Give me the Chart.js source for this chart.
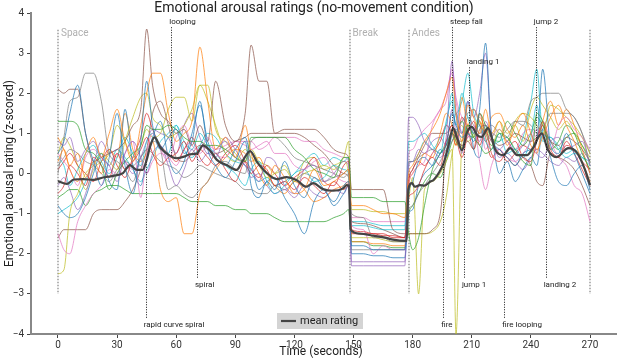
<!DOCTYPE html>
<html>
<head>
<meta charset="utf-8">
<script src="https://cdn.jsdelivr.net/npm/chart.js@4.4.0/dist/chart.umd.min.js"></script>
<style>
  html, body { margin: 0; padding: 0; background: #fff; }
</style>
</head>
<body>
<canvas id="myChart" width="617" height="359"></canvas>
<script>

// sample times (seconds) for the three parts of the ride
var spaceT = [0,3,6,10,14,18,22,26,30,34,38,42,45,48,52,56,60,64,68,72,76,80,85,90,95,98,102,106,110,115,120,125,130,135,140,145,147.5];
var breakT = [149,155,160,165,170,176];
var andesT = [178,180,183,186,190,194,197,200,202,205,208,211,214,217,220,224,228,232,236,240,243,246,250,254,258,262,266,270];

// single raters: [space, break, andes]
var rater01 = [[0.5,0.8,1.5,2.2,1.0,0.3,-0.3,0.4,1.5,0.2,-0.5,0.8,2.3,1.2,0.6,0.9,1.1,0.5,0.8,1.8,0.6,0.2,-0.1,0.3,0.8,-0.3,-0.6,-0.2,-0.4,0.3,-0.3,-0.6,-0.1,-0.4,-0.7,-0.3,-0.2],
  [-1.8,-1.8,-1.9,-1.9,-1.9,-1.9],
  [-0.5,-0.2,0.3,0.4,0.2,0.5,0.7,1.5,1.2,0.9,1.0,0.8,1.6,3.25,1.0,0.6,0.4,0.2,0.5,0.6,0.8,2.6,0.7,0.5,1.0,0.5,0.0,-0.5]];
var rater02 = [[0.3,0.6,0.1,-0.2,0.5,0.9,0.4,1.0,1.6,0.8,0.3,1.2,2.0,2.5,2.5,1.5,0.8,1.0,1.3,3.15,1.8,0.6,0.9,0.4,1.2,0.5,0.0,-0.3,0.2,-0.1,-0.5,-0.4,0.1,-0.3,-0.2,0.0,0.1],
  [-0.8,-0.8,-0.9,-1.0,-1.0,-1.1],
  [0.0,0.2,0.5,0.8,1.1,1.5,2.0,2.4,1.5,0.8,1.7,1.4,1.0,1.6,1.0,1.3,0.7,1.2,1.5,1.0,0.6,0.9,1.4,1.7,1.2,0.8,0.3,-0.2]];
var rater03 = [[1.3,1.3,1.3,1.2,0.6,0.5,0.2,-0.4,0.0,0.3,0.5,0.7,1.2,1.1,1.1,1.2,1.1,0.9,0.8,0.8,0.7,0.7,0.6,0.4,0.3,0.9,0.9,0.9,0.9,0.9,0.6,0.4,0.1,0.0,-0.1,0.4,0.4],
  [-0.6,-0.6,-0.6,-0.7,-0.7,-0.7],
  [-1.5,-1.9,-1.6,-0.8,0.1,0.5,0.7,1.0,0.8,0.6,1.2,0.9,0.7,0.5,0.6,1.0,0.9,0.6,0.3,0.2,1.5,1.3,0.6,0.8,1.2,1.0,0.5,0.1]];
var rater04 = [[-0.5,-0.3,0.2,0.0,-0.3,0.4,0.2,-0.1,0.5,0.1,0.3,0.6,0.9,0.5,0.2,0.4,0.5,0.8,0.3,0.6,0.4,0.2,0.5,0.7,0.3,0.0,0.2,0.1,-0.3,-0.2,-0.4,-0.1,-0.3,-0.5,-0.2,-0.4,-0.3],
  [-1.4,-1.45,-1.5,-1.5,-1.6,-1.6],
  [-0.6,-0.5,-0.3,0.1,0.4,0.2,0.8,1.2,0.9,0.4,1.0,1.3,0.7,1.1,0.5,0.3,0.6,0.8,0.4,0.3,0.8,1.2,0.5,0.4,0.7,0.6,0.3,0.1]];
var rater05 = [[0.8,0.7,0.9,0.3,0.6,0.8,0.4,0.2,-0.2,0.5,0.8,0.4,0.0,0.5,0.7,0.2,-0.3,0.1,0.6,0.3,0.5,0.4,0.9,0.6,0.2,0.1,-0.2,0.4,0.3,-0.3,-0.5,0.1,0.2,-0.2,0.0,0.3,0.2],
  [-2.2,-2.2,-2.2,-2.2,-2.2,-2.2],
  [1.4,1.4,1.2,0.8,0.6,0.4,0.9,2.8,1.5,0.5,1.8,1.4,2.0,3.0,1.0,0.6,0.8,0.5,0.7,1.0,0.5,0.4,0.8,0.9,0.6,0.7,0.8,0.2]];
var rater06 = [[2.1,2.0,2.1,2.1,1.0,0.3,0.4,0.5,0.6,0.8,1.2,1.6,3.6,2.2,1.5,1.3,1.0,1.1,0.7,1.2,0.8,2.3,1.2,0.8,1.5,3.2,2.3,2.3,1.0,1.1,1.1,1.1,1.1,0.9,0.6,0.5,0.4],
  [-0.4,-0.4,-0.4,-0.4,-1.4,-1.5],
  [-1.5,-1.5,-1.5,-1.5,-1.4,-1.0,0.5,1.0,0.9,0.7,0.8,0.6,1.1,1.2,0.9,0.7,0.8,1.0,0.9,0.8,0.9,1.0,0.8,0.7,0.9,0.8,0.6,0.3]];
var rater07 = [[-1.5,-1.9,-2.0,-1.2,-0.8,-0.5,-0.3,0.1,0.0,0.5,0.8,-0.6,0.5,1.0,0.6,0.3,0.9,1.2,0.7,0.6,0.9,0.5,0.4,0.8,0.7,0.6,0.7,0.8,0.5,0.5,0.2,0.1,0.3,0.4,0.0,-0.2,-0.3],
  [-1.3,-1.4,-2.0,-1.8,-1.9,-1.9],
  [-0.3,0.0,0.2,0.3,1.2,1.6,2.0,2.5,1.8,1.0,0.9,1.2,0.3,-0.4,0.2,0.6,0.4,0.3,0.5,0.8,1.1,0.9,0.6,1.2,1.4,1.1,0.9,0.6]];
var rater08 = [[0.0,0.9,1.8,1.9,2.5,2.5,1.8,0.5,0.3,0.1,-0.2,0.4,0.6,0.8,0.6,-0.4,-0.3,-0.5,-0.6,-0.4,-0.2,0.2,0.3,0.1,0.0,0.8,0.9,0.9,0.9,0.7,0.4,0.3,0.2,0.1,0.0,-0.1,0.0],
  [-1.0,-1.1,-1.6,-1.6,-1.7,-1.7],
  [-0.9,-0.8,-0.5,-0.3,0.0,0.3,0.6,0.8,1.0,1.3,1.5,1.6,1.2,0.8,1.0,0.9,1.1,1.3,1.2,1.8,1.9,2.0,2.0,2.0,1.6,1.4,1.0,0.2]];
var rater09 = [[-2.5,-2.4,-1.0,-0.5,0.0,0.2,0.5,0.3,0.1,0.8,1.4,1.9,2.0,1.4,1.2,0.9,1.0,1.2,1.6,2.2,1.8,1.2,0.5,0.3,0.6,0.4,0.2,-0.1,0.0,0.2,-0.2,0.0,0.1,0.2,0.1,0.3,0.0],
  [-0.9,-0.9,-0.95,-0.95,-1.0,-1.0],
  [-0.6,-0.1,-3.0,-0.4,-0.2,0.0,0.3,0.6,-4.0,0.8,1.2,0.9,1.3,1.0,0.7,1.1,0.8,1.3,1.5,1.4,1.2,1.0,1.7,1.6,1.4,1.2,0.9,0.5]];
var rater10 = [[0.4,0.2,-0.3,0.1,0.5,0.7,0.3,0.0,0.4,0.9,0.5,0.2,0.8,1.0,0.7,0.5,1.2,0.8,0.6,1.0,0.7,0.5,0.2,0.0,-0.3,0.1,0.3,-0.2,-0.5,-0.3,0.0,0.1,-0.2,-0.1,0.2,0.1,0.0],
  [-1.3,-1.3,-1.35,-1.4,-1.4,-1.4],
  [0.8,0.8,0.9,1.0,0.7,0.5,1.3,1.8,1.2,2.0,1.4,1.0,1.2,0.8,0.6,1.0,0.5,0.6,0.4,0.9,1.7,0.8,0.9,0.6,0.4,0.5,0.4,0.3]];
var rater11 = [[-0.8,-1.0,-1.1,-1.0,-0.6,0.0,0.5,-0.2,-0.4,1.6,0.2,-0.3,0.4,0.9,1.3,0.4,0.0,0.3,1.0,1.7,0.8,0.4,0.2,0.6,0.9,0.3,-0.4,-0.2,-0.1,-0.6,-1.0,-1.5,-0.7,-0.4,-0.8,-0.5,-0.3],
  [-2.0,-2.0,-2.05,-2.05,-2.1,-2.1],
  [-1.0,-0.9,-0.3,0.0,0.2,0.6,0.4,1.0,1.5,1.0,1.8,0.6,0.4,1.2,0.9,0.0,0.3,-0.2,0.1,0.4,0.2,1.1,0.4,-0.2,-0.3,0.0,0.2,-0.4]];
var rater12 = [[0.9,0.6,0.2,0.5,-0.1,0.3,0.0,0.6,0.4,1.5,0.6,0.3,0.5,0.8,-0.4,-0.7,-0.6,-1.5,-1.5,-0.5,-0.2,0.1,0.4,0.6,0.5,0.3,0.4,0.0,-0.3,-0.5,-0.2,-0.4,-0.7,-0.6,-0.4,-0.3,-0.2],
  [-1.7,-1.7,-1.75,-1.75,-1.8,-1.8],
  [-0.3,0.0,0.2,0.5,0.4,1.0,1.5,1.2,0.7,1.9,1.2,1.6,1.3,1.0,1.4,1.5,1.1,0.9,1.2,0.7,0.5,1.3,1.8,1.2,1.6,1.2,0.6,0.0]];
var rater13 = [[-0.6,-0.5,-0.4,-0.4,-0.8,-0.5,-0.4,-0.3,-0.3,-0.4,-0.5,-0.5,-0.5,-0.5,-0.5,-0.5,-0.5,-0.6,-0.7,-0.7,-0.7,-0.8,-0.8,-0.9,-0.9,-1.0,-1.0,-1.0,-1.1,-1.2,-1.2,-1.2,-1.2,-1.2,-1.1,-1.0,-0.9],
  [-1.7,-1.7,-1.8,-1.8,-1.85,-1.85],
  [-1.0,-0.8,-0.5,-0.2,0.0,-0.1,0.3,0.8,1.0,1.3,1.0,0.9,1.5,1.2,0.9,0.8,1.3,1.0,0.7,1.0,1.4,1.2,0.8,0.6,0.9,1.0,0.7,0.3]];
var rater14 = [[0.1,0.3,0.5,0.2,0.0,-0.2,0.3,0.6,0.2,-0.1,0.4,0.9,1.5,1.1,0.7,0.5,0.3,0.6,0.9,0.4,0.2,0.5,0.1,-0.2,0.3,0.1,-0.1,0.2,0.0,-0.3,-0.1,0.1,0.4,-0.2,-0.3,0.2,0.3],
  [-1.5,-1.5,-1.5,-1.55,-1.55,-1.6],
  [-0.2,0.1,0.3,0.2,0.5,0.8,1.2,1.0,0.7,1.4,1.1,0.6,1.5,0.9,0.4,0.6,0.3,0.5,0.7,0.6,0.9,1.3,0.6,0.4,0.8,0.5,0.1,-0.3]];
var rater15 = [[-0.3,-0.1,-0.4,-0.9,-0.5,0.2,0.8,0.5,0.6,0.3,0.0,0.4,0.8,1.1,1.0,0.9,0.5,1.2,1.5,0.9,0.5,0.6,0.8,0.4,0.2,-0.1,0.0,-0.3,-0.5,-0.4,-0.6,-0.3,-0.5,-0.6,-0.4,-0.5,-0.3],
  [-2.3,-2.3,-2.3,-2.3,-2.3,-2.3],
  [0.2,0.3,0.6,0.5,0.8,0.9,0.7,1.6,1.0,0.7,0.9,1.1,0.8,1.3,0.9,0.4,0.5,0.3,0.1,0.4,0.6,0.5,0.3,0.2,0.4,0.3,0.5,0.0]];
var rater16 = [[-1.6,-1.4,-1.4,-1.4,-1.4,-1.0,-0.9,-0.9,-0.9,-0.7,-0.4,0.1,0.6,1.5,1.8,1.2,0.4,0.3,0.5,0.7,0.6,0.5,0.6,0.8,0.9,1.0,1.0,1.0,1.0,1.0,1.0,0.9,0.7,0.5,0.2,0.0,-0.1],
  [-1.2,-1.25,-1.3,-1.4,-1.5,-1.6],
  [-0.2,0.1,0.4,0.7,1.0,1.0,1.0,1.2,0.9,0.8,1.2,1.0,0.9,1.0,0.8,0.5,0.4,0.2,0.4,0.2,-0.2,-0.3,0.5,0.4,0.3,0.1,-0.3,-0.8]];
var rater17 = [[0.5,0.3,0.1,-0.3,0.4,0.6,0.4,0.2,0.5,0.3,0.1,0.2,0.0,0.3,0.5,0.4,0.2,0.6,0.8,0.5,0.7,0.6,0.7,0.8,0.8,0.8,0.6,0.7,0.9,0.9,0.9,0.8,0.8,0.6,0.5,0.4,0.3],
  [-1.1,-1.1,-1.2,-1.2,-1.2,-1.2],
  [0.5,0.6,0.9,1.1,1.3,1.6,1.8,2.6,1.9,1.4,1.2,1.0,1.3,0.6,0.9,1.1,0.8,0.6,1.0,1.1,0.9,1.3,0.8,0.4,0.2,-0.3,-0.5,-1.2]];
var rater18 = [[0.2,0.4,0.6,0.5,0.3,0.2,0.0,-0.2,0.1,0.3,0.2,0.4,0.6,0.5,0.3,0.2,0.1,-0.1,0.0,0.2,0.1,0.0,-0.1,-0.2,-0.4,-0.4,-0.5,-0.5,-0.3,-0.4,-0.2,0.0,-0.1,-0.2,-0.1,0.0,0.1],
  [-1.9,-1.9,-1.9,-1.9,-1.9,-1.9],
  [0.3,0.3,0.4,0.5,0.6,0.5,0.8,1.0,1.1,1.0,1.4,1.2,1.0,1.1,1.2,1.0,0.9,1.3,1.3,1.2,1.0,1.1,1.5,1.5,1.5,1.4,1.0,0.5]];
var rater19 = [[0.5,0.9,0.7,0.2,-0.4,0.1,0.3,0.5,1.2,0.8,0.4,0.7,1.1,0.9,1.0,1.6,1.9,1.9,1.3,2.2,2.2,1.1,0.8,0.5,0.3,0.6,0.3,0.2,0.0,0.1,-0.2,0.3,0.4,0.1,0.2,0.4,0.8],
  [-1.6,-1.6,-1.6,-1.65,-1.7,-1.7],
  [-1.5,-1.5,-1.5,-1.5,-1.45,-1.2,-0.6,0.5,0.9,1.2,0.8,1.0,1.4,1.1,0.9,1.3,1.0,1.2,0.8,1.6,1.9,1.7,1.4,1.1,1.3,1.0,0.7,0.4]];
var rater20 = [[-1.0,-0.9,-0.8,-0.6,-0.2,0.3,0.5,0.2,0.6,0.4,0.1,-0.2,0.1,0.4,0.8,1.0,1.2,0.6,0.4,0.7,1.0,0.9,0.5,0.3,0.2,0.0,-0.2,-0.1,-0.3,-0.2,0.0,0.3,0.5,0.2,0.4,0.3,0.4],
  [-1.2,-1.2,-1.25,-1.3,-1.3,-1.3],
  [0.3,0.3,0.5,0.8,0.6,0.9,1.2,2.0,1.5,1.8,2.5,1.5,1.2,1.0,0.7,0.8,0.9,0.6,0.9,1.8,2.6,1.0,0.9,0.7,0.5,0.6,0.4,0.2]];

var raters = [rater01,rater02,rater03,rater04,rater05,rater06,rater07,rater08,rater09,rater10,
              rater11,rater12,rater13,rater14,rater15,rater16,rater17,rater18,rater19,rater20];

// mean rating over all raters
var meanT = [0,4.5,8,12.8,17.8,22.8,28,33,36.5,40,43,45,46.7,49,51.8,55,60,64,67,70.5,73.6,77,80.6,85.6,90.6,94,97.5,101,106,111,116,121,126,129.5,134.5,139.6,144.7,146.5,147.7,148.5,153,160,167,170,177,177.8,179.7,181,183.7,186,189,190.6,195.7,198,200.5,202.5,205,207.6,210,212.7,215,218.3,222,226,229.5,233,238,241,245.5,248.7,253,259,263.5,267.5,270];
var meanV = [-0.19,-0.26,-0.15,-0.14,-0.16,-0.1,-0.06,0.01,0.21,0.09,0.09,0.34,0.66,0.9,0.66,0.5,0.38,0.42,0.48,0.5,0.7,0.58,0.34,0.21,0.09,0.34,0.56,0.29,0.01,-0.14,-0.09,-0.16,-0.33,-0.24,-0.39,-0.43,-0.37,-0.29,-0.3,-1.4,-1.5,-1.55,-1.61,-1.65,-1.68,-0.4,-0.24,-0.33,-0.29,-0.3,-0.2,-0.16,0.26,0.66,1.13,0.9,0.58,1.03,1.16,0.96,0.91,1.13,0.58,0.46,0.63,0.46,0.46,0.63,1.0,0.58,0.41,0.63,0.51,0.09,-0.29];

// sections and events
var sectionNames = ['Space','Break','Andes',''];
var sectionTimes = [0,148,178,270];
var eventNames = ['looping','rapid curve spiral','spiral','steep fall','landing 1','jump 2','fire','jump 1','fire looping','landing 2'];
var eventTimes = [57.5,44.5,70.5,200,208.5,242.5,195.5,206,226.5,247.5];
var eventLabelY = [3.77,-3.77,-2.77,3.77,2.77,3.77,-3.77,-2.77,-3.77,-2.77];

var xTicks = [0,30,60,90,120,150,180,210,240,270];

var palette = ['31,119,180','255,127,14','44,160,44','214,39,40','148,103,189',
               '140,86,75','227,119,194','127,127,127','188,189,34','23,190,207'];

function meanAt(t) {
  for (var i = 1; i < meanT.length; i++) {
    if (meanT[i] >= t) {
      var f = (t - meanT[i-1]) / (meanT[i] - meanT[i-1]);
      return meanV[i-1] + f * (meanV[i] - meanV[i-1]);
    }
  }
  return meanV[meanV.length - 1];
}

function raterPoints(r) {
  var pts = [];
  [spaceT, breakT, andesT].forEach(function(times, s) {
    var n = Math.min(times.length, r[s].length);
    for (var i = 0; i < n; i++) pts.push({x: times[i], y: r[s][i]});
  });
  return pts;
}

var datasets = [{
  label: 'mean rating',
  data: meanT.map(function(t, i) { return {x: t, y: meanV[i]}; }),
  borderColor: '#444444',
  borderWidth: 2.2,
  pointRadius: 0,
  cubicInterpolationMode: 'monotone',
  order: 0
}];
raters.forEach(function(r, k) {
  datasets.push({
    label: 'rater ' + (k + 1),
    data: raterPoints(r),
    borderColor: 'rgba(' + palette[k % 10] + ',0.72)',
    borderWidth: 1,
    pointRadius: 0,
    cubicInterpolationMode: 'monotone',
    order: 1
  });
});

var FONT = 'Roboto, "DejaVu Sans", sans-serif';

function minus(v) { return v < 0 ? '\u2212' + Math.abs(v) : '' + v; }

var overlay = {
  id: 'overlay',
  beforeDatasetsDraw: function(chart) {
    var ctx = chart.ctx, xs = chart.scales.x, ys = chart.scales.y;
    ctx.save();
    ctx.strokeStyle = '#b4b4b4';
    ctx.lineWidth = 2;
    ctx.setLineDash([1.5, 1.5]);
    sectionTimes.forEach(function(t) {
      var px = Math.round(xs.getPixelForValue(t));
      ctx.beginPath();
      ctx.moveTo(px, ys.getPixelForValue(3.58));
      ctx.lineTo(px, ys.getPixelForValue(-3));
      ctx.stroke();
    });
    ctx.restore();
  },
  afterDatasetsDraw: function(chart) {
    var ctx = chart.ctx, xs = chart.scales.x, ys = chart.scales.y;
    ctx.save();
    // event lines from label to the mean curve
    ctx.strokeStyle = '#111';
    ctx.lineWidth = 1;
    ctx.setLineDash([1, 1.5]);
    eventTimes.forEach(function(t, i) {
      var px = Math.round(xs.getPixelForValue(t)) + 0.5;
      var top = eventLabelY[i] > 0;
      var start = ys.getPixelForValue(eventLabelY[i]) + (top ? 5 : -7);
      ctx.beginPath();
      ctx.moveTo(px, start);
      ctx.lineTo(px, ys.getPixelForValue(meanAt(t)));
      ctx.stroke();
    });
    ctx.setLineDash([]);
    ctx.fillStyle = '#222';
    ctx.font = '8px ' + FONT;
    ctx.textBaseline = 'middle';
    ctx.textAlign = 'left';
    eventTimes.forEach(function(t, i) {
      ctx.fillText(eventNames[i], xs.getPixelForValue(t) - 2, ys.getPixelForValue(eventLabelY[i]));
    });
    // section names
    ctx.fillStyle = '#b0b0b0';
    ctx.font = '10px ' + FONT;
    sectionTimes.forEach(function(t, i) {
      if (sectionNames[i]) ctx.fillText(sectionNames[i], xs.getPixelForValue(t) + 3, ys.getPixelForValue(3.5));
    });
    ctx.restore();
  },
  afterDraw: function(chart) {
    var ctx = chart.ctx, area = chart.chartArea;
    ctx.save();
    ctx.fillStyle = '#222';
    ctx.textAlign = 'center';
    ctx.textBaseline = 'middle';
    ctx.font = '14px ' + FONT;
    ctx.fillText('Emotional arousal ratings (no-movement condition)', 314, 8);
    ctx.font = '12px ' + FONT;
    ctx.fillText('Time (seconds)', 321, 352);
    ctx.translate(10, (area.top + area.bottom) / 2);
    ctx.rotate(-Math.PI / 2);
    ctx.fillText('Emotional arousal rating (z-scored)', 0, 0);
    ctx.restore();

    // legend box for the mean line
    ctx.save();
    var cx = (area.left + area.right) / 2 - 4;
    var bw = 86, bh = 16, bx = cx - bw / 2, by = area.bottom - 21;
    ctx.fillStyle = '#d4d4d4';
    ctx.fillRect(bx, by, bw, bh);
    ctx.strokeStyle = '#444444';
    ctx.lineWidth = 2.2;
    ctx.beginPath();
    ctx.moveTo(bx + 4, by + bh / 2);
    ctx.lineTo(bx + 19, by + bh / 2);
    ctx.stroke();
    ctx.fillStyle = '#222';
    ctx.font = '11px ' + FONT;
    ctx.textAlign = 'left';
    ctx.textBaseline = 'middle';
    ctx.fillText(chart.data.datasets[0].label, bx + 23, by + bh / 2 + 0.5);
    ctx.restore();
  }
};

var ctx = document.getElementById('myChart').getContext('2d');
var chart = new Chart(ctx, {
  type: 'line',
  data: { datasets: datasets },
  options: {
    responsive: false,
    animation: false,
    devicePixelRatio: 1,
    layout: { padding: { top: 13, right: 0, left: 0, bottom: 0 } },
    plugins: { legend: { display: false }, tooltip: { enabled: false } },
    scales: {
      x: {
        type: 'linear',
        min: -13.7,
        max: 283.7,
        afterFit: function(s) { s.height = 25; },
        afterBuildTicks: function(s) { s.ticks = xTicks.map(function(v) { return {value: v}; }); },
        ticks: { color: '#333', font: { size: 10, family: FONT }, padding: 1, maxRotation: 0 },
        grid: { drawOnChartArea: false, drawTicks: true, tickLength: 4, color: '#444' },
        border: { color: '#888', width: 2 }
      },
      y: {
        min: -4,
        max: 4,
        afterFit: function(s) { s.width = 31; },
        ticks: { stepSize: 1, color: '#333', font: { size: 10, family: FONT }, padding: 3,
                 callback: function(v) { return minus(v); } },
        grid: { drawOnChartArea: false, drawTicks: true, tickLength: 4, color: '#444' },
        border: { color: '#888', width: 2 }
      }
    }
  },
  plugins: [overlay]
});
</script>
</body>
</html>
